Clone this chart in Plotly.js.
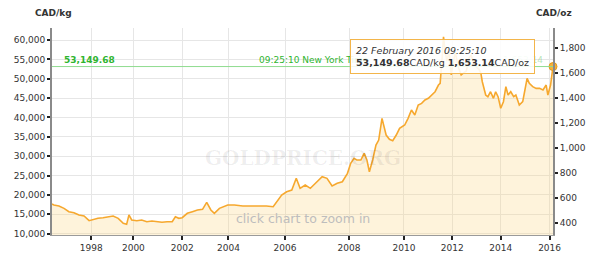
<!DOCTYPE html>
<html><head><meta charset="utf-8">
<script src="https://cdn.plot.ly/plotly-3.0.1.min.js"></script>
<style>html,body{margin:0;padding:0;background:#fff;}#chart{width:600px;height:259px;}</style>
</head><body><div id="chart"></div>
<script>
// ---- data (decimal year, CAD per kg) ----
const years = [
 1996.14,1996.23,1996.47,1996.71,1996.94,1997.18,1997.42,1997.66,1997.90,
 1998.08,1998.32,1998.56,1998.80,1999.04,1999.28,1999.52,1999.68,1999.79,1999.92,
 2000.14,2000.34,2000.55,2000.76,2000.96,2001.17,2001.38,2001.59,2001.72,2001.86,
 2002.00,2002.22,2002.44,2002.66,2002.88,2003.06,2003.24,2003.39,2003.61,2003.83,2003.97,
 2004.21,2004.51,2004.87,2005.11,2005.34,2005.58,2005.70,2005.88,
 2006.05,2006.21,2006.35,2006.47,2006.63,2006.79,2006.95,2007.16,2007.31,2007.47,2007.63,2007.79,2007.95,
 2008.06,2008.18,2008.28,2008.43,2008.55,2008.65,2008.74,2008.86,2008.98,
 2009.08,2009.20,2009.35,2009.47,2009.59,2009.72,2009.84,
 2010.03,2010.17,2010.31,2010.45,2010.59,2010.73,2010.87,
 2011.01,2011.15,2011.29,2011.43,2011.50,2011.57,2011.64,2011.71,2011.78,2011.87,2011.96,
 2012.05,2012.13,2012.25,2012.37,2012.47,2012.58,2012.70,2012.78,2012.90,
 2013.00,2013.10,2013.18,2013.24,2013.38,2013.47,2013.58,2013.70,2013.79,2013.89,
 2014.00,2014.11,2014.21,2014.30,2014.41,2014.53,2014.62,2014.76,2014.90,2014.99,
 2015.08,2015.17,2015.31,2015.45,2015.59,2015.73,2015.86,2015.93,2016.04,2016.14
];
const cadPerKg = [
 17670,17400,17150,16550,15680,15420,14830,14570,13360,
 13700,13970,14130,14390,14570,13970,12680,12420,14830,13540,
 13360,13540,13100,13280,13100,12940,13100,13100,14390,13970,
 14130,15260,15680,16120,16300,18100,16120,15260,16550,16970,17400,
 17400,17150,17150,17230,17150,16970,18260,19990,
 20840,21280,24300,21720,22570,21720,23010,24710,24300,22310,23010,23420,25590,
 28170,29460,29020,29020,30750,29020,26000,29020,32890,
 34180,39780,35470,34360,34000,35470,37200,
 38060,39780,41930,40640,43220,43650,44510,
 44950,45800,46650,48380,48810,54390,60840,56970,54600,57000,51000,
 54500,56800,53000,51000,51500,52000,55500,56000,54000,
 53000,52500,51500,49230,45800,45370,46650,44950,46650,45370,
 42370,44080,47950,45800,46650,45370,45800,43220,44080,47090,
 50110,48810,47950,47520,47520,47090,48380,45800,48380,53149.68
];
const tickYears = [1998,2000,2002,2004,2006,2008,2010,2012,2014,2016];
const tickLabels = tickYears.map(String);
const kgTicks = [10000,15000,20000,25000,30000,35000,40000,45000,50000,55000,60000];
const ozTicks = [400,600,800,1000,1200,1400,1600,1800];
const OZ_PER_KG = 32.1507466;
const quoteTime = '22 February 2016 09:25:10';
const clockLabel = '09:25:10 New York Time';

// The source chart spaces its years unevenly: axis breakpoints (axis units per tick year)
const breakUnits = [43, 84.7, 133, 178.7, 234.7, 298, 352.3, 400, 448, 496.3];
function warp(y){
  const n = tickYears.length;
  let i = 0;
  if (y >= tickYears[n-1]) i = n-2;
  else if (y > tickYears[0]) { while (y > tickYears[i+1]) i++; }
  const t = (y - tickYears[i])/(tickYears[i+1]-tickYears[i]);
  return breakUnits[i] + t*(breakUnits[i+1]-breakUnits[i]);
}

const xs = years.map(warp);
const last = cadPerKg[cadPerKg.length-1];
const lastOz = last/OZ_PER_KG;
const fmt2 = v => v.toLocaleString('en-US',{minimumFractionDigits:2, maximumFractionDigits:2});
const kgRange = [9665, 63100];
const ozRange = kgRange.map(v => v/OZ_PER_KG);
const FONT = 'DejaVu Sans, Verdana, sans-serif';
const GREEN = '#2fb52f';

const traces = [
  {x: xs, y: cadPerKg, type:'scatter', mode:'lines', fill:'tozeroy',
   line:{color:'#f6a82e', width:1.6}, fillcolor:'rgba(250,212,125,0.28)', hoverinfo:'skip'},
  {x: [xs[xs.length-1]], y:[lastOz], yaxis:'y2', type:'scatter', mode:'markers',
   marker:{color:'#f7b23b', size:8, line:{color:'#e49a1c', width:1}}, hoverinfo:'skip', cliponaxis:false}
];

const layout = {
  width:600, height:259,
  margin:{l:52, r:47, t:28, b:24, pad:0},
  paper_bgcolor:'#fff', plot_bgcolor:'#fff',
  showlegend:false,
  font:{family:FONT, size:9, color:'#333'},
  xaxis:{range:[xs[0], xs[xs.length-1]], tickmode:'array', tickvals:tickYears.map(warp), ticktext:tickLabels,
    ticks:'outside', ticklen:4, tickwidth:2, tickcolor:'#222', showgrid:true, gridcolor:'#e6e6e6',
    showline:true, linecolor:'#9a9a9a', linewidth:1, zeroline:false, fixedrange:true,
    tickfont:{family:FONT, size:9, color:'#333'}},
  yaxis:{range:kgRange, tickmode:'array', tickvals:kgTicks, tickformat:',d',
    ticks:'outside', ticklen:3, tickwidth:2, tickcolor:'#222', showgrid:true, gridcolor:'#e6e6e6',
    showline:true, linecolor:'#8a8a8a', linewidth:2, zeroline:false, fixedrange:true,
    tickfont:{family:FONT, size:9, color:'#333'}},
  yaxis2:{range:ozRange, overlaying:'y', side:'right', tickmode:'array', tickvals:ozTicks, tickformat:',d',
    ticks:'outside', ticklen:3, tickwidth:2, tickcolor:'#222', showgrid:false,
    showline:true, linecolor:'#8a8a8a', linewidth:2, zeroline:false, fixedrange:true,
    tickfont:{family:FONT, size:9, color:'#333'}},
  shapes:[
    {type:'line', xref:'paper', x0:0, x1:1, yref:'y', y0:last, y1:last,
     line:{color:'#8fdc8f', width:1}, layer:'above'}
  ],
  annotations:[
    {xref:'paper', yref:'paper', x:-0.037, y:1.072, xanchor:'left', yanchor:'middle', showarrow:false,
     text:'<b>CAD/kg</b>', font:{family:FONT, size:9, color:'#333'}},
    {xref:'paper', yref:'paper', x:0.963, y:1.072, xanchor:'left', yanchor:'middle', showarrow:false,
     text:'<b>CAD/oz</b>', font:{family:FONT, size:9, color:'#333'}},
    {xref:'paper', yref:'paper', x:0.5, y:0.37, xanchor:'center', yanchor:'middle', showarrow:false,
     text:'<b>GOLDPRICE.ORG</b>', font:{family:'DejaVu Serif, serif', size:20, color:'rgba(0,0,0,0.065)'}},
    {xref:'paper', yref:'paper', x:0.5, y:0.08, xanchor:'center', yanchor:'middle', showarrow:false,
     text:'click chart to zoom in', font:{family:FONT, size:12.5, color:'#bdbdbd'}},
    {xref:'paper', yref:'y', x:0.02, y:last, xanchor:'left', yanchor:'bottom', showarrow:false,
     text:'<b>'+fmt2(last)+'</b>', font:{family:FONT, size:9, color:GREEN}},
    {xref:'paper', yref:'y', x:0.41, y:last, xanchor:'left', yanchor:'bottom', showarrow:false,
     text:clockLabel, font:{family:FONT, size:9, color:GREEN}},
    {xref:'paper', yref:'y', x:0.985, y:last, xanchor:'right', yanchor:'bottom', showarrow:false,
     text:fmt2(lastOz), font:{family:FONT, size:9, color:'rgba(47,181,47,0.35)'}},
    {xref:'paper', yref:'paper', x:0.595, y:0.947, xanchor:'left', yanchor:'top', showarrow:false,
     align:'left', bgcolor:'rgba(255,255,255,0.88)', bordercolor:'#f3b54a', borderwidth:1, borderpad:5,
     text:'<i>'+quoteTime+'</i><br><b>'+fmt2(last)+'</b>CAD/kg <b>'+fmt2(lastOz)+'</b>CAD/oz',
     font:{family:FONT, size:9.5, color:'#333'}}
  ]
};

Plotly.newPlot('chart', traces, layout, {displayModeBar:false, staticPlot:true});
</script>
</body></html>
